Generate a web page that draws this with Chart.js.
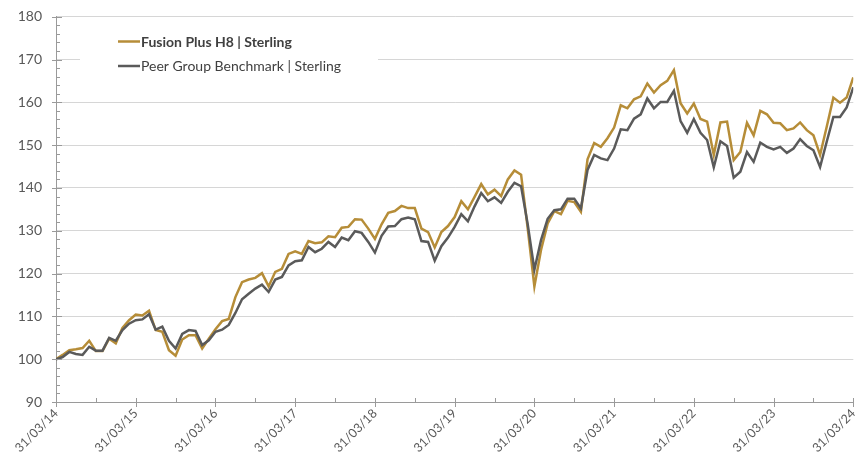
<!DOCTYPE html>
<html>
<head>
<meta charset="utf-8">
<script src="https://cdn.jsdelivr.net/npm/chart.js@4.4.1/dist/chart.umd.min.js"></script>
<style>
  html, body { margin: 0; padding: 0; background: #ffffff; }
  #wrap { width: 866px; height: 461px; }
</style>
</head>
<body>
<div id="wrap"><canvas id="c" width="866" height="461"></canvas></div>
<script>
// ---- Data (monthly, 31/03/14 .. 31/03/24) ----
const tickLabels = ['31/03/14','31/03/15','31/03/16','31/03/17','31/03/18','31/03/19','31/03/20','31/03/21','31/03/22','31/03/23','31/03/24'];
const seriesNames = ['Fusion Plus H8 | Sterling', 'Peer Group Benchmark | Sterling'];
const fusion = [
  100, 101, 102.1, 102.3, 102.6, 104.3, 101.9, 101.9, 104.8, 103.7, 107.3, 109.1,
  110.4, 110.2, 111.3, 106.8, 106.4, 102.1, 100.8, 104.6, 105.6, 105.6, 102.5, 104.8,
  107, 108.9, 109.4, 114.5, 118.0, 118.6, 119, 120.1, 117.0, 120.4, 121.1, 124.6,
  125.2, 124.6, 127.6, 127.1, 127.3, 128.7, 128.5, 130.7, 130.9, 132.7, 132.6, 130.5,
  128.1, 131.5, 134.2, 134.6, 135.8, 135.3, 135.3, 130.5, 129.7, 126.1, 129.7, 131.1,
  133.2, 136.9, 135, 137.9, 140.9, 138.5, 139.6, 138.1, 142, 144.1, 143.1, 130.5,
  117.0, 125.5, 131.7, 134.6, 133.9, 137, 136.7, 134.4, 146.7, 150.5, 149.6, 151.6,
  154.1, 159.3, 158.6, 160.7, 161.4, 164.4, 162.3, 164, 165, 167.5, 159.8, 157.4,
  159.7, 156.1, 155.5, 147.7, 155.3, 155.5, 146.5, 148.4, 155.2, 152.3, 158, 157.2,
  155.2, 155.1, 153.5, 153.9, 155.3, 153.5, 152.3, 147.7, 154.3, 161.1, 159.9, 161.1,
  165.8
];
const peer = [
  100, 100.5, 101.7, 101.2, 101, 102.9, 102, 102, 105, 104.3, 106.8, 108.3,
  109.1, 109.3, 110.5, 106.9, 107.6, 104.3, 102.5, 105.9, 106.8, 106.6, 103.3, 104.4,
  106.4, 106.9, 108, 110.8, 114, 115.3, 116.5, 117.4, 115.7, 118.6, 119.2, 121.9,
  122.9, 123.1, 126.2, 125, 125.8, 127.4, 126.2, 128.4, 127.8, 129.9, 129.5, 127.4,
  124.9, 128.8, 131, 131.1, 132.7, 133.1, 132.7, 127.6, 127.4, 123, 126.4, 128.4,
  130.9, 133.9, 132.2, 135.7, 138.8, 136.9, 137.8, 136.5, 139.1, 141.2, 140.4, 131.5,
  120.9, 127.8, 132.8, 134.8, 135, 137.5, 137.5, 135.2, 144.2, 147.7, 146.9, 146.5,
  149.2, 153.7, 153.5, 156.2, 157.2, 160.9, 158.6, 160.1, 160.1, 162.7, 155.6, 152.9,
  156.1, 152.9, 151.2, 144.8, 150.9, 149.8, 142.4, 143.8, 148.4, 146.1, 150.6, 149.6,
  149, 149.6, 148.2, 149.2, 151.4, 149.8, 148.8, 144.9, 150.8, 156.6, 156.6, 158.8,
  163.5
];
const yMin = 90, yMax = 180, yStep = 10;
const monthsPerTick = 12;

const GOLD = '#B68D38';
const GREY = '#5A5A5A';
const AXIS = '#9a9a9a';
const GRID = '#d6d6d6';
const TEXT = '#595959';
const FONT = 'Lato, "Open Sans", sans-serif';

const toPts = arr => arr.map((v, i) => ({ x: i, y: v }));

// Tick marks (major crossing, minor inside)
const tickMarks = {
  id: 'tickMarks',
  afterDraw(chart) {
    const { ctx, scales: { x, y }, chartArea: a } = chart;
    ctx.save();
    ctx.strokeStyle = AXIS;
    ctx.lineWidth = 1;
    ctx.beginPath();
    for (let v = yMin; v <= yMax; v += 2) {
      const py = Math.round(y.getPixelForValue(v)) + 0.5;
      if ((v - yMin) % yStep === 0) { ctx.moveTo(a.left - 4, py); ctx.lineTo(a.left + 6, py); }
      else { ctx.moveTo(a.left, py); ctx.lineTo(a.left + 4, py); }
    }
    for (let k = 0; k <= fusion.length - 1; k += monthsPerTick / 2) {
      const px = Math.round(x.getPixelForValue(k)) + 0.5;
      if (k % monthsPerTick === 0) { ctx.moveTo(px, a.bottom - 4); ctx.lineTo(px, a.bottom + 5); }
      else { ctx.moveTo(px, a.bottom - 4); ctx.lineTo(px, a.bottom); }
    }
    ctx.stroke();
    ctx.restore();
  }
};

// Legend inside chart area
const innerLegend = {
  id: 'innerLegend',
  beforeDatasetsDraw(chart) {
    const { ctx } = chart;
    ctx.save();
    ctx.fillStyle = '#ffffff';
    ctx.fillRect(80, 26, 298, 52);
    ctx.restore();
  },
  afterDraw(chart) {
    const { ctx } = chart;
    ctx.save();
    const rows = [{ y: 41.5, bold: true }, { y: 66, bold: false }];
    chart.data.datasets.forEach((ds, i) => {
      const r = rows[i];
      ctx.strokeStyle = ds.borderColor;
      ctx.lineWidth = 2.5;
      ctx.beginPath();
      ctx.moveTo(118, r.y);
      ctx.lineTo(140, r.y);
      ctx.stroke();
      ctx.fillStyle = '#404040';
      ctx.font = (r.bold ? 'bold ' : '') + '14px ' + FONT;
      ctx.textBaseline = 'middle';
      ctx.textAlign = 'left';
      ctx.fillText(ds.label, 141, r.y + 0.5);
    });
    ctx.restore();
  }
};

new Chart(document.getElementById('c'), {
  type: 'line',
  data: {
    datasets: [
      { label: seriesNames[0], data: toPts(fusion), borderColor: GOLD, backgroundColor: GOLD,
        borderWidth: 2.5, pointRadius: 0, tension: 0, order: 1 },
      { label: seriesNames[1], data: toPts(peer), borderColor: GREY, backgroundColor: GREY,
        borderWidth: 2.5, pointRadius: 0, tension: 0, order: 0 }
    ]
  },
  options: {
    responsive: false,
    animation: false,
    devicePixelRatio: 1,
    layout: { padding: { left: 0, top: 16.7, right: 12.7, bottom: 0 } },
    plugins: { legend: { display: false }, tooltip: { enabled: false } },
    scales: {
      x: {
        type: 'linear',
        min: 0,
        max: fusion.length - 1,
        afterFit(s) { s.height = 59; s.paddingLeft = 0; s.paddingRight = 0; },
        afterBuildTicks(s) {
          s.ticks = tickLabels.map((_, i) => ({ value: i * monthsPerTick }));
        },
        ticks: {
          autoSkip: false,
          maxRotation: 45,
          minRotation: 45,
          padding: 4,
          color: TEXT,
          font: { family: FONT, size: 12.5 },
          callback: (v) => tickLabels[Math.round(v / monthsPerTick)]
        },
        grid: { display: true, drawOnChartArea: false, drawTicks: false },
        border: { display: true, color: AXIS, width: 1 }
      },
      y: {
        min: yMin,
        max: yMax,
        afterFit(s) { s.width = 56; s.paddingTop = 0; s.paddingBottom = 0; },
        ticks: {
          stepSize: yStep,
          padding: 14,
          color: TEXT,
          font: { family: FONT, size: 14 }
        },
        grid: {
          drawTicks: false,
          color: (c) => (c.tick && c.tick.value === yMin) ? 'rgba(0,0,0,0)' : GRID,
          lineWidth: 1
        },
        border: { display: true, color: AXIS, width: 1 }
      }
    }
  },
  plugins: [tickMarks, innerLegend]
});
</script>
</body>
</html>
